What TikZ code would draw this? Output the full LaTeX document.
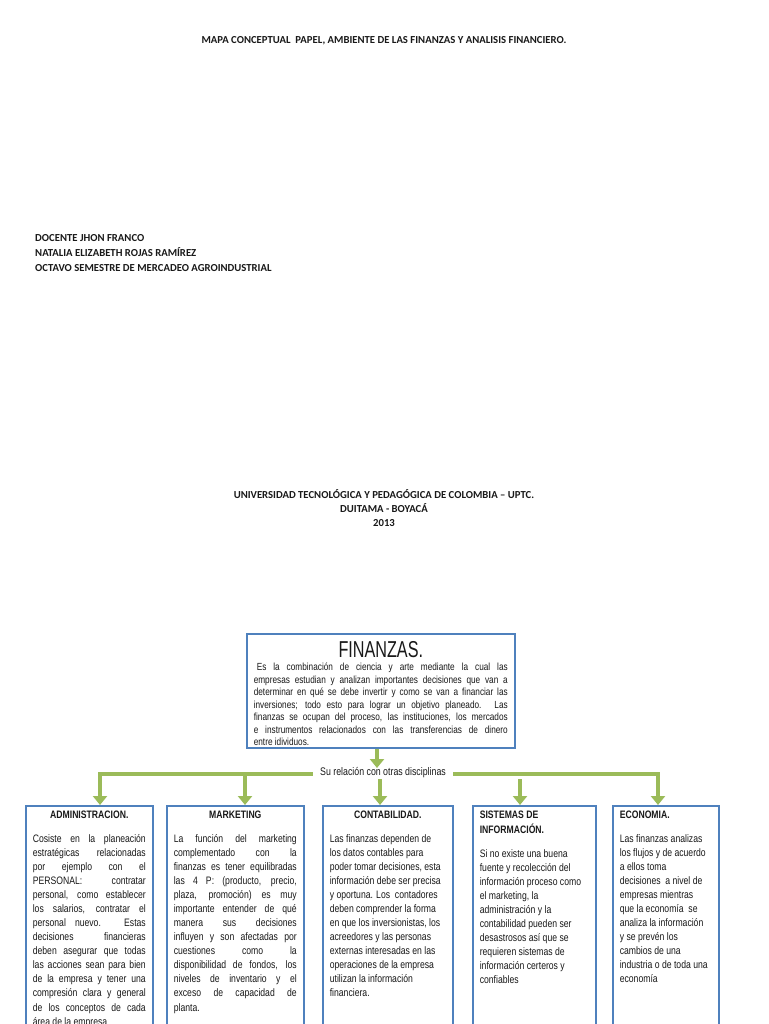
\documentclass[tikz,border=0pt]{standalone}
\usepackage{fontspec}
\setmainfont{Carlito}
\newfontfamily\nar{Liberation Sans}[FakeStretch=0.8]
\usetikzlibrary{arrows.meta}
\definecolor{boxblue}{RGB}{79,129,189}
\definecolor{grn}{RGB}{155,187,89}
\begin{document}
\begin{tikzpicture}[x=1pt,y=-1pt,
  head/.style={font=\fontsize{10.7}{15}\selectfont\bfseries, inner sep=0pt, text=black!90},
  dbox/.style={draw=boxblue, line width=1.6pt, anchor=north west, inner xsep=7pt, inner ysep=5pt, fill=white, text=black!90,
    font=\nar\fontsize{10.8}{14.05}\selectfont},
  garrow/.style={draw=grn, line width=3.8pt, -{Triangle[width=14pt,length=9pt]}},
]
\clip (0,0) rectangle (768,1024);
\fill[white] (0,0) rectangle (768,1024);

% header texts
\node[head] (title) at (384,41) {MAPA CONCEPTUAL\ \ PAPEL, AMBIENTE DE LAS FINANZAS Y ANALISIS FINANCIERO.};
\node[head, anchor=north west, align=left] (autor) at (35,234.5)
  {DOCENTE JHON FRANCO\\NATALIA ELIZABETH ROJAS RAMÍREZ\\OCTAVO SEMESTRE DE MERCADEO AGROINDUSTRIAL};
\node[head, align=center, font=\fontsize{10.7}{14}\selectfont\bfseries] (uni) at (384,508)
  {UNIVERSIDAD TECNOLÓGICA Y PEDAGÓGICA DE COLOMBIA – UPTC.\\DUITAMA - BOYACÁ\\2013};

% FINANZAS box
\node[dbox, inner ysep=4pt] (fin) at (246,633) {\parbox[t][106pt][t]{254pt}{%
  {\centering\fontsize{23}{23}\selectfont\rule{0pt}{19.5pt}\scalebox{0.88}[1]{FINANZAS.}\par}\vspace{1.2pt}%
  \fontsize{10.3}{12.45}\selectfont
  \hspace*{3pt}Es la combinación de ciencia y arte mediante la cual las\linebreak
  empresas estudian y analizan importantes decisiones que van a\linebreak
  determinar en qué se debe invertir y como se van a financiar las\linebreak
  inversiones; todo esto para lograr un objetivo planeado. Las\linebreak
  finanzas se ocupan del proceso, las instituciones, los mercados\linebreak
  e instrumentos relacionados con las transferencias de dinero\linebreak
  entre idividuos.}};

% discipline boxes
\newcommand{\bxhead}{\bfseries\fontsize{10.8}{15}\selectfont}
\node[dbox] (adm) at (25,805) {\parbox[t][240pt][t]{113pt}{%
  {\centering\bxhead ADMINISTRACION.\par}\vspace{10pt}%
  Cosiste en la planeación\linebreak
  estratégicas relacionadas\linebreak
  por ejemplo con el\linebreak
  PERSONAL: contratar\linebreak
  personal, como establecer\linebreak
  los salarios, contratar el\linebreak
  personal nuevo. Estas\linebreak
  decisiones financieras\linebreak
  deben asegurar que todas\linebreak
  las acciones sean para bien\linebreak
  de la empresa y tener una\linebreak
  compresión clara y general\linebreak
  de los conceptos de cada\linebreak
  área de la empresa}};

\node[dbox] (mkt) at (166,805) {\parbox[t][240pt][t]{123pt}{%
  {\centering\bxhead MARKETING\par}\vspace{10pt}%
  La función del marketing\linebreak
  complementado con la\linebreak
  finanzas es tener equilibradas\linebreak
  las 4 P: (producto, precio,\linebreak
  plaza, promoción) es muy\linebreak
  importante entender de qué\linebreak
  manera sus decisiones\linebreak
  influyen y son afectadas por\linebreak
  cuestiones como la\linebreak
  disponibilidad de fondos, los\linebreak
  niveles de inventario y el\linebreak
  exceso de capacidad de\linebreak
  planta.}};

\node[dbox] (con) at (322,805) {\parbox[t][240pt][t]{116pt}{%
  {\centering\bxhead CONTABILIDAD.\par}\vspace{10pt}%
  \raggedright
  Las finanzas dependen de\\
  los datos contables para\\
  poder tomar decisiones, esta\\
  información debe ser precisa\\
  y oportuna. Los\ \ contadores\\
  deben comprender la forma\\
  en que los inversionistas, los\\
  acreedores y las personas\\
  externas interesadas en las\\
  operaciones de la empresa\\
  utilizan la información\\
  financiera.}};

\node[dbox] (sis) at (472,805) {\parbox[t][240pt][t]{109pt}{%
  \raggedright
  {\bxhead SISTEMAS DE\\INFORMACIÓN.\par}\vspace{10pt}%
  Si no existe una buena\\
  fuente y recolección del\\
  información proceso como\\
  el marketing, la\\
  administración y la\\
  contabilidad pueden ser\\
  desastrosos así que se\\
  requieren sistemas de\\
  información certeros y\\
  confiables}};

\node[dbox] (eco) at (612,805) {\parbox[t][240pt][t]{92pt}{%
  \raggedright
  {\bxhead ECONOMIA.\par}\vspace{10pt}%
  Las finanzas analizas\\
  los flujos y de acuerdo\\
  a ellos toma\\
  decisiones\ \ a nivel de\\
  empresas mientras\\
  que la economía\ \ se\\
  analiza la información\\
  y se prevén los\\
  cambios de una\\
  industria o de toda una\\
  economía}};

% connectors
\node[font=\nar\fontsize{11}{12}\selectfont, inner xsep=7pt, inner ysep=2pt, text=black!90] (rel) at (383,773) {Su relación con otras disciplinas};
\coordinate (jtop) at (377,768);
\coordinate (c1) at (100,774);
\coordinate (c2) at (245,774);
\coordinate (c3) at (380,779);
\coordinate (c4) at (520,779);
\coordinate (c5) at (658,774);
\draw[garrow] (fin.south -| jtop) -- (jtop);
\draw[garrow, line join=miter] (rel.west |- c1) -- (c1) -- (c1 |- adm.north);
\draw[garrow, line join=miter] (rel.east |- c5) -- (c5) -- (c5 |- eco.north);
\draw[garrow] (c2) -- (c2 |- mkt.north);
\draw[garrow] (c3) -- (c3 |- con.north);
\draw[garrow] (c4) -- (c4 |- sis.north);
\end{tikzpicture}
\end{document}
